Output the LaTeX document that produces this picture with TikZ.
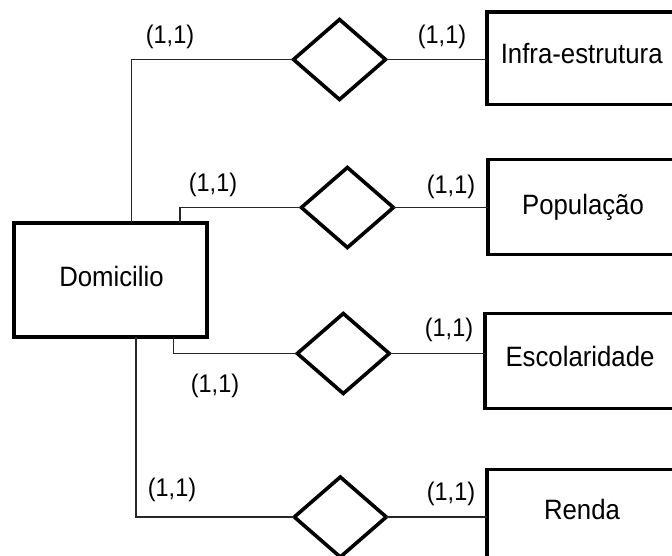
\documentclass[tikz,border=0pt]{standalone}
\usepackage{fontspec}
\setmainfont{Liberation Sans}
\newfontfamily\entfont{Liberation Sans}[FakeStretch=0.92]
\usetikzlibrary{shapes.geometric}

\tikzset{
  entity/.style={draw, rectangle, line width=3.5pt, inner sep=0pt, outer sep=0pt,
                 minimum width=190pt, minimum height=95pt},
  relation/.style={draw, diamond, line width=3.6pt, inner sep=0pt, outer sep=0pt,
                   minimum width=92pt, minimum height=80pt},
  conn/.style={draw=black!85, line width=1.1pt},
  enttext/.style={anchor=base, inner sep=0pt, font=\entfont\fontsize{28}{30}\selectfont},
  card/.style={inner sep=0pt, font=\entfont\fontsize{25.5}{28}\selectfont}
}

\begin{document}
\begin{tikzpicture}[x=1pt, y=-1pt]
\useasboundingbox (0,0) rectangle (672,555);
\clip (0,0) rectangle (672,555);

% central entity
\node[entity, minimum width=193pt, minimum height=114pt] (dom) at (110.5,280) {};
\node[enttext] (domt) at (111.5,286) {Domicilio};

% related entities (their right sides run off the page)
\node[entity, minimum height=92.5pt] (infra) at (581.9,58) {};
\node[enttext] (infrat) at (581.7,63) {Infra-estrutura};
\node[entity] (pop) at (583,207) {};
\node[enttext] (popt) at (583,214) {População};
\node[entity] (esc) at (580,361) {};
\node[enttext] (esct) at (580,366) {Escolaridade};
\node[entity] (renda) at (582,517) {};
\node[enttext] (rendat) at (582,519) {Renda};

% relationships
\node[relation] (r1) at (339.5,59.5) {};
\node[relation] (r2) at (347.4,207.5) {};
\node[relation] (r3) at (343.3,353.5) {};
\node[relation] (r4) at (340.3,517) {};

% connectors
\draw[conn] ([xshift=117.6pt]dom.north west) |- (r1.west);
\draw[conn] (r1.east) -- (r1.east -| infra.west);
\draw[conn] ([xshift=166pt]dom.north west) |- (r2.west);
\draw[conn] (r2.east) -- (r2.east -| pop.west);
\draw[conn] ([xshift=159.6pt]dom.south west) |- (r3.west);
\draw[conn] (r3.east) -- (r3.east -| esc.west);
\draw[conn] ([xshift=122pt]dom.south west) |- (r4.west);
\draw[conn] (r4.east) -- (r4.east -| renda.west);

% cardinalities
\node[card] (c1a) at (170,37) {(1,1)};
\node[card] (c1b) at (442,37) {(1,1)};
\node[card] (c2a) at (213,185) {(1,1)};
\node[card] (c2b) at (451,187) {(1,1)};
\node[card] (c3a) at (215,386) {(1,1)};
\node[card] (c3b) at (449,330) {(1,1)};
\node[card] (c4a) at (172,490) {(1,1)};
\node[card] (c4b) at (451,494) {(1,1)};
\end{tikzpicture}
\end{document}
